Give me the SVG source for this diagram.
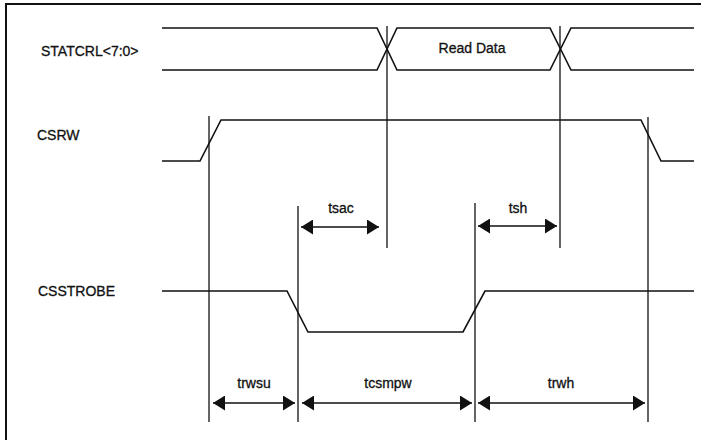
<svg xmlns="http://www.w3.org/2000/svg" width="701" height="440" viewBox="0 0 701 440">
<style>
.lbl{font-family:"Liberation Sans",Arial,sans-serif;font-size:14px;fill:#111;stroke:#111;stroke-width:0.3}
.sig{fill:none;stroke:#111;stroke-width:1.6}
.ref{fill:none;stroke:#111;stroke-width:1.3}
.dim{fill:none;stroke:#111;stroke-width:1.3;marker-start:url(#ah);marker-end:url(#ah)}
.frame{fill:none;stroke:#111;stroke-width:2}
</style>
<defs>
<marker id="ah" markerUnits="userSpaceOnUse" markerWidth="12" markerHeight="15" refX="12" refY="7.5" orient="auto-start-reverse">
<path d="M0,0 L12,7.5 L0,15 z" fill="#111"/>
</marker>
</defs>
<rect width="701" height="440" fill="#fff"/>
<g id="frame">
<path class="frame" d="M6,440 V4 H701"/>
</g>
<g id="statcrl">
<text class="lbl" x="41" y="56">STATCRL&lt;7:0&gt;</text>
<path class="sig" d="M162,28 H377 L397,70 H550 L571,28 H694"/>
<path class="sig" d="M162,70 H377 L397,28 H550 L571,70 H694"/>
<text class="lbl" x="472" y="53" text-anchor="middle">Read Data</text>
</g>
<g id="csrw">
<text class="lbl" x="37" y="140">CSRW</text>
<path class="sig" d="M162,161 H200 L221,120 H641 L661,161 H694"/>
</g>
<g id="csstrobe">
<text class="lbl" x="38" y="296">CSSTROBE</text>
<path class="sig" d="M162,291 H287 L308,332 H463 L485,291 H694"/>
</g>
<g id="connectors">
<path class="ref" d="M209,116 V422"/>
<path class="ref" d="M298,206 V422"/>
<path class="ref" d="M387,26 V248"/>
<path class="ref" d="M475,203 V422"/>
<path class="ref" d="M560,26 V248"/>
<path class="ref" d="M648,117 V422"/>
<path class="dim" d="M301,227 H379"/>
<path class="dim" d="M478,226 H557"/>
<path class="dim" d="M213,403 H295"/>
<path class="dim" d="M302,403 H472"/>
<path class="dim" d="M478,403 H645"/>
</g>
<g id="timing-labels">
<text class="lbl" x="341" y="213" text-anchor="middle">tsac</text>
<text class="lbl" x="518" y="213" text-anchor="middle">tsh</text>
<text class="lbl" x="254" y="388" text-anchor="middle">trwsu</text>
<text class="lbl" x="388" y="388" text-anchor="middle">tcsmpw</text>
<text class="lbl" x="561" y="388" text-anchor="middle">trwh</text>
</g>
</svg>
